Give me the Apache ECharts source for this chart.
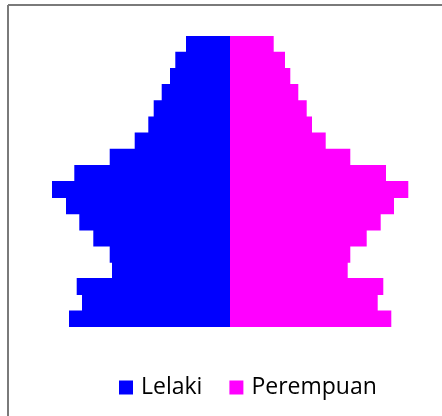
<!DOCTYPE html>
<html>
<head>
<meta charset="utf-8">
<script src="https://cdn.jsdelivr.net/npm/echarts@6/dist/echarts.min.js"></script>
<style>
  html, body { margin: 0; padding: 0; background: #fff; }
  #main { width: 442px; height: 416px; }
</style>
</head>
<body>
<div id="main"></div>
<script>
// kumpulan umur, dari bawah ke atas
var ageGroups = ['0-4', '5-9', '10-14', '15-19', '20-24', '25-29', '30-34', '35-39', '40-44',
    '45-49', '50-54', '55-59', '60-64', '65-69', '70-74', '75-79', '80-84', '85+'];
var lelaki = [161, 148, 153.3, 118, 120.3, 136.7, 150.7, 164, 178, 155.7, 120.3, 95.3, 81.7, 76.3, 68.3, 60, 54.7, 44];
var perempuan = [161.3, 147.7, 153.3, 117.7, 120.3, 136.7, 150.7, 164, 178.3, 156, 120.3, 95.7, 82, 76.7, 68.3, 60.3, 55, 43.7];

var myChart = echarts.init(document.getElementById('main'));

var option = {
    animation: false,
    grid: {
        left: 30,
        width: 400,
        top: 36,
        height: 291
    },
    xAxis: {
        type: 'value',
        min: -200,
        max: 200,
        show: false
    },
    yAxis: {
        type: 'category',
        data: ageGroups,
        show: false
    },
    legend: {
        top: 371,
        left: 114,
        icon: 'rect',
        itemWidth: 14,
        itemHeight: 14,
        itemGap: 27,
        textStyle: {
            fontFamily: 'Open Sans',
            fontSize: 23,
            color: '#000',
            padding: [0, 0, 0, 3]
        }
    },
    graphic: [
        {
            type: 'line',
            shape: { x1: 8, y1: 5, x2: 442, y2: 5 },
            style: { stroke: '#7a7a7a', lineWidth: 2 }
        },
        {
            type: 'line',
            shape: { x1: 8, y1: 5, x2: 8, y2: 416 },
            style: { stroke: '#7a7a7a', lineWidth: 2 }
        }
    ],
    series: [
        {
            name: 'Lelaki',
            type: 'bar',
            stack: 'pop',
            barWidth: 17,
            itemStyle: { color: '#0000ff' },
            data: lelaki.map(function (v) { return -v; })
        },
        {
            name: 'Perempuan',
            type: 'bar',
            stack: 'pop',
            barWidth: 17,
            itemStyle: { color: '#ff00ff' },
            data: perempuan
        }
    ]
};

myChart.setOption(option, true);
</script>
</body>
</html>
